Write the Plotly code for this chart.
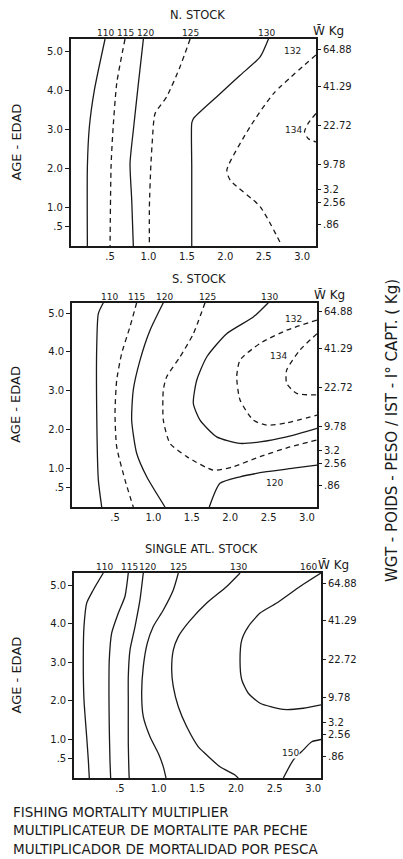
import plotly.graph_objects as go

# Yield-per-recruit isopleths.
# x = fishing mortality multiplier, y = age at first capture.

# --- N. STOCK ---
n110_x = [0.435, 0.296, 0.231, 0.205, 0.205]
n110_y = [5.31, 4.0, 3.06, 2.03, 0]
n115_x = [0.695, 0.587, 0.535, 0.513, 0.5]
n115_y = [5.31, 4.17, 2.89, 2.03, 0]
n120_x = [0.934, 0.869, 0.803, 0.76, 0.782, 0.803]
n120_y = [5.31, 4.17, 2.97, 2.12, 1.18, 0]
n125_x = [1.542, 1.411, 1.238, 1.086, 1.051, 1.03, 1.012, 1.012]
n125_y = [5.31, 4.6, 3.83, 3.4, 2.72, 2.03, 1.01, 0]
n130_x = [2.561, 2.453, 2.193, 1.889, 1.585, 1.563, 1.563, 1.563]
n130_y = [5.31, 4.85, 4.38, 3.83, 3.27, 3.15, 2.03, 0]
n132_x = [3.18, 2.627, 2.323, 2.02, 2.063, 2.453, 2.736]
n132_y = [4.9, 3.91, 3.06, 1.95, 1.69, 1.01, 0]
n134_x = [3.18, 3.08, 3.03, 3.08, 3.18]
n134_y = [3.4, 3.15, 2.93, 2.75, 2.67]

# --- S. STOCK ---
s110_x = [0.348, 0.283, 0.262, 0.262, 0.283, 0.327]
s110_y = [5.27, 4.99, 4.13, 2.41, 0.70, 0]
s115_x = [0.782, 0.695, 0.587, 0.522, 0.5, 0.522, 0.63, 0.738]
s115_y = [5.27, 4.65, 3.96, 3.27, 2.41, 1.55, 0.70, 0]
s120_x = [1.129, 0.956, 0.826, 0.738, 0.717, 0.783, 0.913, 1.151]
s120_y = [5.27, 4.56, 3.79, 3.02, 2.24, 1.38, 0.78, 0]
s125_x = [1.672, 1.52, 1.346, 1.173, 1.129, 1.129, 1.216, 1.434, 1.78,
          2.04, 2.388, 2.779, 3.13]
s125_y = [5.27, 4.47, 3.87, 3.36, 3.02, 2.24, 1.64, 1.30, 0.95,
          1.04, 1.30, 1.55, 1.73]
s130_x = [2.496, 2.301, 1.954, 1.694, 1.564, 1.52, 1.607, 1.824, 2.128,
          2.388, 2.735, 3.13]
s130_y = [5.27, 4.90, 4.47, 3.87, 3.27, 2.67, 2.24, 1.81, 1.64,
          1.68, 1.81, 2.03]
s132_x = [3.13, 2.735, 2.388, 2.128, 2.085, 2.128, 2.301, 2.475, 2.735, 3.13]
s132_y = [4.82, 4.56, 4.22, 3.79, 3.36, 2.76, 2.24, 2.11, 2.17, 2.37]
s134_x = [3.13, 2.909, 2.735, 2.735, 2.866, 3.13]
s134_y = [4.47, 4.05, 3.53, 3.19, 2.93, 2.89]
s120b_x = [1.728, 1.867, 2.128, 2.475, 2.822, 3.13]
s120b_y = [0, 0.61, 0.78, 0.91, 1.0, 1.08]

# --- SINGLE ATL. STOCK ---
a110_x = [0.285, 0.155, 0.07, 0.035, 0.026, 0.035, 0.07, 0.091, 0.104]
a110_y = [5.32, 4.88, 4.54, 3.93, 3.06, 2.03, 1.07, 0.47, 0]
a115_x = [0.608, 0.565, 0.479, 0.393, 0.362, 0.358, 0.362, 0.371, 0.38]
a115_y = [5.32, 4.71, 4.28, 3.76, 3.06, 2.2, 1.33, 0.47, 0]
a120_x = [0.802, 0.759, 0.695, 0.63, 0.608, 0.608, 0.608, 0.617, 0.62]
a120_y = [5.32, 4.62, 3.93, 3.32, 2.63, 1.94, 0.9, 0.12, 0]
a125_x = [1.255, 1.19, 1.061, 0.931, 0.854, 0.802, 0.781, 0.802, 0.889,
          0.996, 1.061, 1.096]
a125_y = [5.32, 4.88, 4.36, 3.93, 3.5, 2.89, 2.2, 1.59, 1.07,
          0.64, 0.29, 0]
a130_x = [2.053, 1.881, 1.622, 1.40, 1.255, 1.19, 1.169, 1.19, 1.255,
          1.364, 1.514, 1.578, 1.794, 1.988, 2.03]
a130_y = [5.32, 4.97, 4.54, 4.07, 3.67, 3.32, 2.81, 2.37, 1.85,
          1.33, 0.81, 0.68, 0.29, 0.08, 0]
a160_x = [3.10, 2.829, 2.527, 2.312, 2.16, 2.075, 2.053, 2.075, 2.16,
          2.312, 2.613, 2.872, 3.10]
a160_y = [5.32, 4.97, 4.54, 4.28, 3.93, 3.58, 3.06, 2.55, 2.2,
          1.94, 1.78, 1.81, 1.9]
a150_x = [2.613, 2.743, 2.872, 2.98, 3.10]
a150_y = [0, 0.47, 0.73, 0.94, 1.0]

# tick labels
x_ticks = [0.5, 1.0, 1.5, 2.0, 2.5, 3.0]
x_ticktext = [".5", "1.0", "1.5", "2.0", "2.5", "3.0"]
age_ticks = [0.5, 1, 2, 3, 4, 5]
age_ticktext = [".5", "1.0", "2.0", "3.0", "4.0", "5.0"]
wgt_ticks = [5.05, 4.08, 3.08, 2.08, 1.45, 1.12, 0.55]
wgt_ticktext = ["64.88", "41.29", "22.72", "9.78", "3.2", "2.56", ".86"]

# top-edge isopleth labels (level, x position)
n_top = [("110", 0.435), ("115", 0.695), ("120", 0.96), ("125", 1.55),
         ("130", 2.54)]
s_top = [("110", 0.43), ("115", 0.786), ("120", 1.14), ("125", 1.71),
         ("130", 2.51)]
a_top = [("110", 0.30), ("115", 0.63), ("120", 0.86), ("125", 1.255),
         ("130", 2.03), ("160", 2.94)]

# inner isopleth labels (text, x, y)
n_inner = [("132", 2.88, 5.0), ("134", 2.89, 2.97)]
s_inner = [("132", 2.82, 4.84), ("134", 2.63, 3.89), ("120", 2.58, 0.61)]
a_inner = [("150", 2.70, 0.66)]

panels = [
    {"title": "N. STOCK",
     "lines": [(n110_x, n110_y, "solid"), (n115_x, n115_y, "dash"),
               (n120_x, n120_y, "solid"), (n125_x, n125_y, "dash"),
               (n130_x, n130_y, "solid"), (n132_x, n132_y, "dash"),
               (n134_x, n134_y, "dash")],
     "top": n_top, "inner": n_inner,
     "xdom": [70.7, 316], "ydom": [39, 246],
     "xrange": [-0.012, 3.18], "yrange": [0, 5.31]},
    {"title": "S. STOCK",
     "lines": [(s110_x, s110_y, "solid"), (s115_x, s115_y, "dash"),
               (s120_x, s120_y, "solid"), (s125_x, s125_y, "dash"),
               (s130_x, s130_y, "solid"), (s132_x, s132_y, "dash"),
               (s134_x, s134_y, "dash"), (s120b_x, s120b_y, "solid")],
     "top": s_top, "inner": s_inner,
     "xdom": [72, 317], "ydom": [302.7, 507],
     "xrange": [-0.06, 3.13], "yrange": [0, 5.27]},
    {"title": "SINGLE ATL. STOCK",
     "lines": [(a110_x, a110_y, "solid"), (a115_x, a115_y, "solid"),
               (a120_x, a120_y, "solid"), (a125_x, a125_y, "solid"),
               (a130_x, a130_y, "solid"), (a160_x, a160_y, "solid"),
               (a150_x, a150_y, "solid")],
     "top": a_top, "inner": a_inner,
     "xdom": [74, 321], "ydom": [573, 778],
     "xrange": [-0.094, 3.10], "yrange": [0, 5.32]},
]

W, H = 403, 859
FONT = "DejaVu Sans"
INK = "#1a1a1a"

fig = go.Figure()
layout = {}
annotations = []


def note(text, **kw):
    """Centred text annotation (plotly's 'auto' anchors shift paper text)."""
    d = dict(text=text, showarrow=False, xanchor="center", yanchor="middle")
    d.update(kw)
    annotations.append(d)


for i, p in enumerate(panels):
    n = i + 1
    sx = "" if n == 1 else str(n)
    xa, ya, ra = "x" + sx, "y" + sx, "y" + str(n + 3)

    for xs, ys, dash in p["lines"]:
        fig.add_trace(go.Scatter(
            x=xs, y=ys, mode="lines", xaxis=xa, yaxis=ya,
            line=dict(color=INK, width=1.3, shape="spline", smoothing=0.6,
                      dash="5px,4px" if dash == "dash" else "solid"),
            hoverinfo="skip", showlegend=False))
    # dummy trace so the right-hand weight axis is drawn
    fig.add_trace(go.Scatter(x=[None], y=[None], xaxis=xa, yaxis=ra,
                             showlegend=False, hoverinfo="skip"))

    xdom = [p["xdom"][0] / W, p["xdom"][1] / W]
    ydom = [1 - p["ydom"][1] / H, 1 - p["ydom"][0] / H]

    layout["xaxis" + sx] = dict(
        domain=xdom, range=p["xrange"], anchor=ya,
        tickvals=x_ticks, ticktext=x_ticktext, ticks="",
        showline=True, mirror=True, linecolor=INK, linewidth=1.6,
        showgrid=False, zeroline=False,
        tickfont=dict(family=FONT, size=10, color=INK))
    layout["yaxis" + sx] = dict(
        domain=ydom, range=p["yrange"], anchor=xa,
        tickvals=age_ticks, ticktext=age_ticktext,
        ticks="outside", ticklen=4, tickcolor=INK,
        showline=True, mirror=True, linecolor=INK, linewidth=1.6,
        showgrid=False, zeroline=False,
        tickfont=dict(family=FONT, size=10, color=INK))
    layout["yaxis" + str(n + 3)] = dict(
        overlaying=ya, side="right", anchor=xa, range=p["yrange"],
        tickvals=wgt_ticks, ticktext=wgt_ticktext,
        ticks="outside", ticklen=4, tickcolor=INK,
        showline=False, showgrid=False, zeroline=False,
        tickfont=dict(family=FONT, size=10, color=INK))

    # panel title
    note(p["title"], xref="paper", yref="paper",
         x=(p["xdom"][0] + p["xdom"][1]) / 2 / W + 0.01,
         y=1 - (p["ydom"][0] - 24) / H,
         font=dict(family=FONT, size=11.5, color=INK))
    # W-bar Kg
    note("W\u0304 Kg", xref="paper", yref="paper",
         x=(p["xdom"][1] + 12) / W, y=1 - (p["ydom"][0] - 8) / H,
         font=dict(family=FONT, size=12, color=INK))
    # Age axis label
    note("AGE - EDAD", xref="paper", yref="paper",
         x=16 / W, y=1 - (p["ydom"][0] + p["ydom"][1]) / 2 / H,
         textangle=-90, font=dict(family=FONT, size=13, color=INK))
    for txt, lx in p["top"]:
        note(txt, xref=xa, yref=ya + " domain", x=lx, y=1.0,
             yanchor="bottom", yshift=-1,
             font=dict(family=FONT, size=9, color=INK))
    for txt, lx, ly in p["inner"]:
        note(txt, xref=xa, yref=ya, x=lx, y=ly,
             bgcolor="white", borderpad=0,
             font=dict(family=FONT, size=9, color=INK))

# right-hand weight label
note("WGT - POIDS - PESO / IST - I\u00b0 CAPT. ( Kg)",
     xref="paper", yref="paper", x=392 / W, y=1 - 431 / H,
     textangle=-90, font=dict(family=FONT, size=15, color=INK))

# x-axis caption, three languages
for k, line in enumerate(["FISHING MORTALITY MULTIPLIER",
                          "MULTIPLICATEUR DE MORTALITE PAR PECHE",
                          "MULTIPLICADOR DE MORTALIDAD POR PESCA"]):
    note(line, xref="paper", yref="paper", x=11 / W,
         y=1 - (811.5 + 18.8 * k) / H, xanchor="left",
         font=dict(family=FONT, size=13.5, color=INK))

fig.update_layout(
    width=W, height=H, margin=dict(l=0, r=0, t=0, b=0),
    paper_bgcolor="white", plot_bgcolor="white",
    annotations=annotations, **layout)

# page body has a default 8px margin; drop it so the figure fills the window
fig.write_html("out.html", config={"displayModeBar": False},
               post_script="document.body.style.margin='0px';"
                           "document.body.style.overflow='hidden';")
